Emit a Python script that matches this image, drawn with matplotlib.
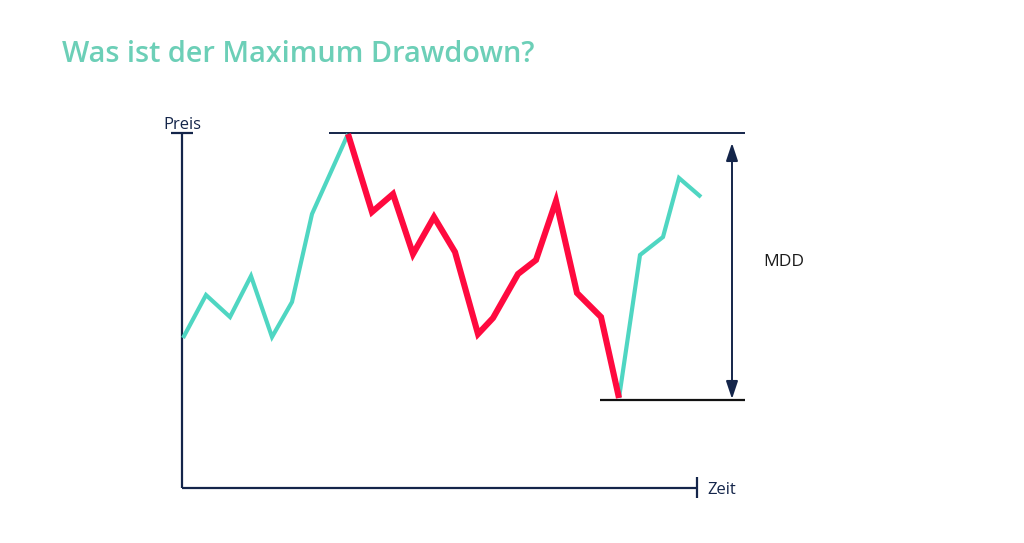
import matplotlib
matplotlib.use("Agg")
import matplotlib.pyplot as plt

# Data (time units, price units)
time_rise = [1, 24, 48, 69, 90, 110, 130, 166]
price_rise = [150, 193, 171, 212, 151, 186, 274, 354]
time_fall = [166, 190, 211, 231, 252, 273, 296, 311, 336, 354, 374, 395, 419, 437]
price_fall = [354, 276, 294, 234, 271, 236, 154, 170, 214, 228, 287, 195, 171, 90]
time_recover = [437, 458, 481, 497, 519]
price_recover = [90, 233, 251, 310, 291]

title = "Was ist der Maximum Drawdown?"
y_label = "Preis"
x_label = "Zeit"
mdd_label = "MDD"

TEAL = "#4fd6c2"
RED = "#ff0a3f"
NAVY = "#14254a"
TITLE_C = "#6ccfb7"

fig = plt.figure(figsize=(10.24, 5.43), dpi=100)
ax = fig.add_axes([0, 0, 1, 1])
ax.set_xlim(-182, 1024 - 182)
ax.set_ylim(488 - 543, 488)
ax.axis("off")

peak = max(price_fall)
trough = min(price_fall)
x_end = 515

# axes
ax.plot([0, 0], [0, peak + 1], color=NAVY, lw=1.6, solid_capstyle="butt")
ax.plot([0, x_end], [0, 0], color=NAVY, lw=1.6, solid_capstyle="butt")
ax.plot([-11, 11], [peak + 1, peak + 1], color=NAVY, lw=1.6, solid_capstyle="butt")
ax.plot([x_end, x_end], [-10, 11], color=NAVY, lw=1.6, solid_capstyle="butt")

# peak and trough lines
ax.plot([147, 563], [peak + 1, peak + 1], color=NAVY, lw=1.4, solid_capstyle="butt")
ax.plot([418, 563], [trough - 2, trough - 2], color="#111111", lw=1.6, solid_capstyle="butt")

# series
ax.plot(time_rise, price_rise, color=TEAL, lw=3.0, solid_joinstyle="miter", solid_capstyle="butt")
ax.plot(time_recover, price_recover, color=TEAL, lw=3.0, solid_joinstyle="miter", solid_capstyle="butt")
ax.plot(time_fall, price_fall, color=RED, lw=4.4, solid_joinstyle="miter", solid_capstyle="butt")

# MDD arrow
ax.annotate("", xy=(550, peak - 9), xytext=(550, trough - 1),
            arrowprops=dict(arrowstyle="<|-|>,head_length=0.9,head_width=0.3",
                            color=NAVY, lw=1.4,
                            mutation_scale=12, shrinkA=0, shrinkB=0))

ax.text(581, 226, mdd_label, color="#1a1a1a", fontsize=12.5, va="center", ha="left",
        family="Open Sans")
ax.text(0, 359, y_label, color=NAVY, fontsize=12, va="baseline", ha="center",
        family="Open Sans")
ax.text(525, -2, x_label, color=NAVY, fontsize=12, va="center", ha="left",
        family="Open Sans")

fig.text(62 / 1024, 1 - 55 / 543, title, color=TITLE_C, fontsize=20.8,
         fontweight="semibold", family="Open Sans", va="center", ha="left")

fig.savefig("out.png", dpi=100, facecolor="white")
